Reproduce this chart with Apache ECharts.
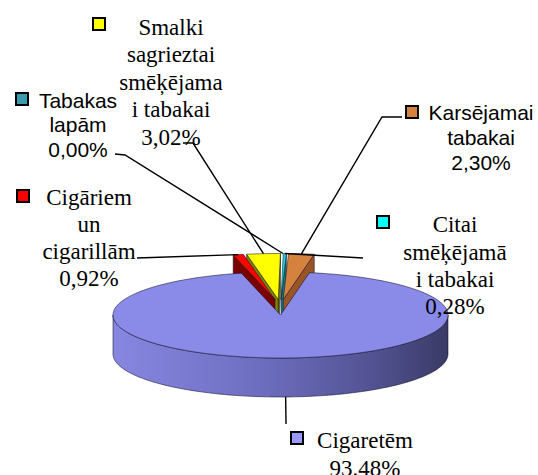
<!DOCTYPE html>
<html><head><meta charset="utf-8">
<script src="https://cdn.jsdelivr.net/npm/echarts@6/dist/echarts.min.js"></script>
<style>html,body{margin:0;padding:0;background:#fff}#c{width:538px;height:475px}</style>
</head><body><div id="c"></div>
<script>
// ---- data ----
const categories = ['Cigāriem\nun\ncigarillām', 'Smalki\nsagrieztai\nsmēķējama\ni tabakai', 'Tabakas\nlapām', 'Citai\nsmēķējamā\ni tabakai', 'Karsējamai\ntabakai', 'Cigaretēm'];
const values = [0.92, 3.02, 0.00, 0.28, 2.30, 93.48];
const valueLabels = ['0,92%', '3,02%', '0,00%', '0,28%', '2,30%', '93.48%'];

// ---- styling / layout ----
const G = {cx: 280.5, cy: 315, rx: 167.5, ry: 43, depth: 39, start: -13.5};
const SMALL = {cy: 306.4, rx: 179, ry: 46, explode: 0.15};
const exploded = [true, true, true, true, true, false];
const topColors = ['#ff0000', '#ffff00', '#3399aa', '#22d8e0', '#d4823e', '#8a8ae8'];
const wallColors = ['#7a0000', '#80800a', '#1d5f6a', '#0f7f8a', '#9a5526', null];
const markerColors = ['#ff0000', '#ffff00', '#3c9aae', '#00ffff', '#d4823e', '#9999ff'];
const SERIF = "'Liberation Serif', 'Times New Roman', serif";
const SANS = "'Liberation Sans', Arial, sans-serif";
const labelLayout = [
  {x: 89, y: 197, lh: 27, family: SERIF, size: 23, mx: 16, my: 189, leader: [[137, 258]]},
  {x: 171, y: 27, lh: 27.5, family: SERIF, size: 23, mx: 92, my: 17, leader: [[183, 143], [193, 143]]},
  {x: 78, y: 100, lh: 24.5, family: SANS, size: 21, mx: 15, my: 92, leader: [[115, 154], [125, 155]]},
  {x: 455, y: 225, lh: 27.3, family: SERIF, size: 23, mx: 376, my: 215, leader: [[363, 258]]},
  {x: 481, y: 112, lh: 25, family: SANS, size: 21, mx: 405, my: 105, leader: [[402, 117], [382, 117]]},
  {x: 365, y: 440, lh: 28, family: SERIF, size: 23, mx: 290, my: 431, leader: [[286, 424]]}
];

const total = values.reduce((a, b) => a + b, 0);
const angles = [];
let acc = G.start;
values.forEach(v => { const a0 = acc; acc += v / total * 360; angles.push([a0, acc]); });

function pt(a, cx, cy, rx, ry) {
  const r = a * Math.PI / 180;
  return [cx + rx * Math.sin(r), cy - ry * Math.cos(r)];
}
function arc(a0, a1, cx, cy, rx, ry) {
  const n = Math.max(2, Math.ceil(Math.abs(a1 - a0) / 1.5));
  const out = [];
  for (let i = 0; i <= n; i++) out.push(pt(a0 + (a1 - a0) * i / n, cx, cy, rx, ry));
  return out;
}
const sinD = a => Math.sin(a * Math.PI / 180);
const cosD = a => Math.cos(a * Math.PI / 180);

function renderItem(params, api) {
  const i = params.dataIndex;
  const v = api.value(0);
  const [a0, a1] = angles[i];
  const mid = (a0 + a1) / 2;
  const L = labelLayout[i];
  const children = [];
  const line = {stroke: 'rgba(10,10,30,0.75)', lineWidth: 0.7};
  let end;
  if (!exploded[i]) {
    const {cx, cy, rx, ry, depth} = G;
    const s0 = Math.max(a0, 90), s1 = Math.min(a1, 270);
    if (s1 > s0) {
      const pts = arc(s0, s1, cx, cy, rx, ry).concat(arc(s1, s0, cx, cy + depth, rx, ry));
      children.push({type: 'polygon', shape: {points: pts}, z2: 4,
        style: Object.assign({fill: new echarts.graphic.LinearGradient(0, 0, 1, 0, [
          {offset: 0, color: '#8787e2'}, {offset: 0.45, color: '#6d6dbf'},
          {offset: 0.8, color: '#50508f'}, {offset: 1, color: '#3a3a66'}])}, line)});
    }
    children.push({type: 'polygon', shape: {points: [[cx, cy]].concat(arc(a0, a1, cx, cy, rx, ry))}, z2: 5,
      style: Object.assign({fill: topColors[i]}, line)});
    const front = -cosD(mid) > 0;
    end = pt(mid, cx, front ? cy + depth : cy, rx, ry);
  } else {
    const {rx, ry, explode} = SMALL;
    const c = [G.cx + explode * rx * sinD(mid), SMALL.cy - explode * ry * cosD(mid)];
    const d = G.depth;
    if (a1 - a0 > 1e-6) {
      const wall = (a) => {
        const p = pt(a, c[0], c[1], rx, ry);
        return {type: 'polygon', z2: 1 + Math.abs(a) / 1000,
          shape: {points: [c, p, [p[0], p[1] + d], [c[0], c[1] + d]]},
          style: Object.assign({fill: wallColors[i]}, line)};
      };
      if (sinD(a0) < 0) children.push(wall(a0));
      if (sinD(a1) > 0) children.push(wall(a1));
      children.push({type: 'polygon', z2: 3,
        shape: {points: [c].concat(arc(a0, a1, c[0], c[1], rx, ry))},
        style: Object.assign({fill: topColors[i]}, line)});
    }
    end = pt(mid, c[0], c[1], rx, ry);
  }
  children.push({type: 'polyline', z2: 10, shape: {points: L.leader.concat([end])},
    style: {stroke: '#000', lineWidth: 1.4, fill: null}});
  children.push({type: 'rect', z2: 12, shape: {x: L.mx + 1, y: L.my + 1, width: 12, height: 12},
    style: {fill: markerColors[i], stroke: '#000', lineWidth: 2}});
  children.push({type: 'text', z2: 12, x: L.x, y: L.y - L.lh / 2,
    style: {text: categories[i] + '\n' + valueLabels[i], fill: '#000', fontSize: L.size,
      fontFamily: L.family, align: 'center', verticalAlign: 'top', lineHeight: L.lh}});
  return {type: 'group', children};
}

const chart = echarts.init(document.getElementById('c'), null, {renderer: 'svg'});
chart.setOption({
  backgroundColor: '#fff',
  animation: false,
  series: [{
    type: 'custom',
    coordinateSystem: 'none',
    silent: true,
    renderItem,
    data: values.map((v, i) => ({name: categories[i].replace(/\n/g, ' '), value: [v]}))
  }]
});
</script>
</body></html>
